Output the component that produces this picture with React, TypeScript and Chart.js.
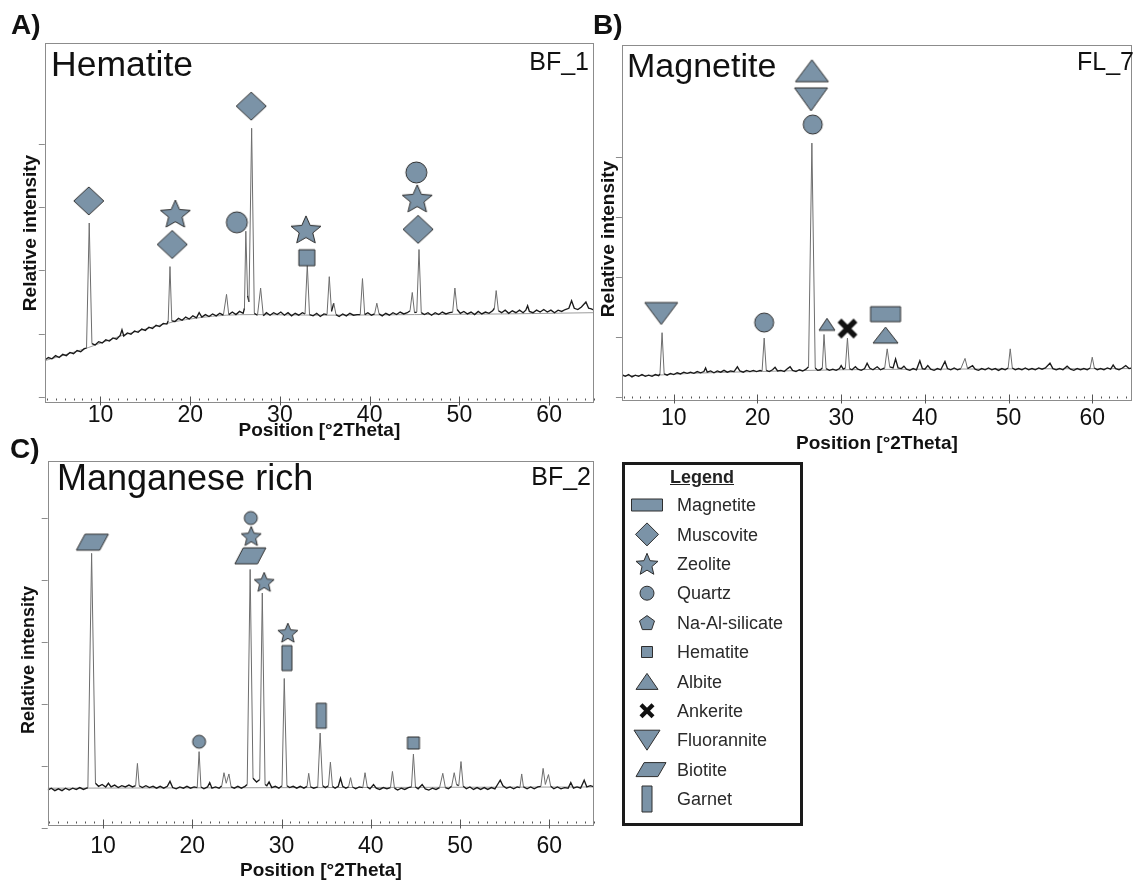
import { useEffect, useRef } from "react";
import { Chart, registerables } from "chart.js";

Chart.register(...registerables);

const FONT = '"Liberation Sans", Arial, Helvetica, sans-serif';
const FILL = "#7b93a7";
const EDGE = "#2e2e2e";

// ---------- data ----------
const xTickLabels = [10, 20, 30, 40, 50, 60];

// Panel A – Hematite (BF_1)
const hemTrace: [number, number][] = [
  [3.8,0.58],[4.2,0.62],[4.6,0.60],[5.0,0.65],[5.4,0.62],[5.8,0.67],[6.2,0.65],[6.6,0.70],[7.0,0.68],[7.4,0.73],[7.8,0.71],[8.2,0.76],[8.45,0.77],[8.75,2.75],[9.05,0.84],[9.4,0.82],[9.8,0.87],[10.2,0.85],[10.6,0.90],[11.0,0.88],[11.4,0.93],[11.8,0.91],[12.2,0.97],[12.4,1.06],[12.6,0.96],[13.0,1.01],[13.4,0.99],[13.8,1.04],[14.2,1.02],[14.6,1.07],[15.0,1.05],[15.4,1.10],[15.8,1.08],[16.2,1.13],[16.6,1.11],[17.0,1.16],[17.4,1.15],[17.55,1.20],[17.75,2.06],[17.95,1.20],[18.3,1.19],[18.7,1.24],[19.1,1.21],[19.5,1.26],[19.9,1.23],[20.3,1.28],[20.7,1.25],[21.0,1.33],[21.3,1.26],[21.7,1.30],[22.1,1.27],[22.5,1.31],[22.9,1.28],[23.3,1.32],[23.7,1.29],[24.05,1.62],[24.3,1.30],[24.7,1.34],[25.1,1.30],[25.5,1.35],[25.9,1.32],[26.05,1.40],[26.2,2.62],[26.4,1.60],[26.55,1.50],[26.85,4.25],[27.15,1.32],[27.5,1.29],[27.85,1.72],[28.15,1.28],[28.5,1.33],
  [28.9,1.29],[29.3,1.33],[29.7,1.30],[30.1,1.34],[30.5,1.29],[30.9,1.33],[31.3,1.28],[31.7,1.32],[32.1,1.29],[32.5,1.33],[32.8,1.31],[33.05,2.09],[33.3,1.30],[33.7,1.28],[34.1,1.32],[34.5,1.27],[34.9,1.31],[35.25,1.30],[35.5,1.90],[35.75,1.35],[36.0,1.48],[36.25,1.30],[36.6,1.27],[37.0,1.31],[37.4,1.28],[37.8,1.32],[38.2,1.29],[38.6,1.30],[38.95,1.30],[39.2,1.87],[39.45,1.30],[39.8,1.33],[40.2,1.29],[40.55,1.31],[40.8,1.48],[41.05,1.31],[41.4,1.28],[41.8,1.32],[42.2,1.29],[42.6,1.33],[43.0,1.30],[43.4,1.34],[43.8,1.31],[44.2,1.33],[44.5,1.36],[44.75,1.65],[45.0,1.33],[45.25,1.34],[45.5,2.33],[45.75,1.33],[46.1,1.30],[46.5,1.33],[46.9,1.29],[47.3,1.33],[47.7,1.30],[48.1,1.34],[48.5,1.31],[48.9,1.33],[49.25,1.34],[49.5,1.72],[49.75,1.38],[50.1,1.32],[50.5,1.35],[50.9,1.31],[51.3,1.34],[51.7,1.30],[52.1,1.35],[52.5,1.31],[52.9,1.34],[53.3,1.32],[53.7,1.36],[53.9,1.40],[54.1,1.68],[54.35,1.36],[54.7,1.33],[55.1,1.37],[55.5,1.32],[55.9,1.36],[56.3,1.33],[56.7,1.37],[57.1,1.33],[57.4,1.37],[57.6,1.44],[57.8,1.35],[58.2,1.33],[58.6,1.37],[59.0,1.34],[59.4,1.38],[59.8,1.34],[60.2,1.37],[60.6,1.33],[61.0,1.37],[61.4,1.35],[61.8,1.38],[62.2,1.40],[62.5,1.52],[62.8,1.40],[63.2,1.38],[63.6,1.42],[64.1,1.50],[64.4,1.40],[64.7,1.39],[65.0,1.37],
];
const hemBackground: [number, number][] = [
  [3.8,0.57],[6,0.66],[8.7,0.78],[12,0.95],[15,1.07],[18,1.18],[21,1.25],[24,1.29],[27,1.30],[35,1.29],[45,1.30],[55,1.31],[65,1.33],
];
const hemMarkers: [string, number, number][] = [
  ["diamond", 8.7, 3.10], ["star", 18.35, 2.90], ["diamond", 18.0, 2.41], ["circle", 25.2, 2.76],
  ["diamond", 26.8, 4.60], ["star", 32.9, 2.65], ["square", 33.0, 2.20], ["circle", 45.2, 3.55],
  ["star", 45.3, 3.14], ["diamond", 45.4, 2.65],
];
const hemYTicks = [0, 1, 2, 3, 4];

// Panel B – Magnetite (FL_7)
const magTrace: [number, number][] = [
  [3.8,0.37],[4.2,0.34],[4.6,0.37],[5.0,0.33],[5.4,0.36],[5.8,0.34],[6.2,0.37],[6.6,0.34],[7.0,0.36],[7.4,0.34],[7.8,0.37],[8.2,0.35],[8.35,0.38],[8.6,1.07],[8.85,0.38],[9.2,0.36],[9.6,0.39],[10.0,0.37],[10.4,0.40],[10.8,0.38],[11.2,0.41],[11.6,0.39],[12.0,0.41],[12.4,0.39],[12.8,0.42],[13.2,0.40],[13.6,0.42],[13.8,0.48],[14.0,0.41],[14.4,0.43],[14.8,0.40],[15.2,0.43],[15.6,0.41],[16.0,0.44],[16.4,0.41],[16.8,0.43],[17.2,0.42],[17.6,0.50],[17.9,0.43],[18.3,0.41],[18.7,0.44],[19.1,0.42],[19.5,0.44],[19.9,0.42],[20.3,0.44],[20.55,0.43],[20.8,0.98],[21.05,0.44],[21.4,0.42],[21.8,0.45],[22.1,0.49],[22.4,0.43],[22.8,0.44],[23.2,0.42],[23.6,0.47],[23.9,0.50],[24.2,0.44],[24.6,0.42],[25.0,0.45],[25.4,0.43],[25.8,0.46],[26.1,0.50],[26.5,4.24],[26.9,0.48],[27.2,0.44],[27.5,0.45],[27.75,0.48],[27.95,1.04],[28.2,0.47],[28.6,0.44],[29.0,0.46],[29.4,0.44],[29.8,0.47],[30.0,0.52],[30.25,0.46],[30.5,0.48],[30.75,0.98],[31.0,0.47],[31.3,0.45],[31.7,0.50],[32.0,0.46],[32.4,0.44],[32.8,0.47],[33.1,0.56],[33.4,0.48],[33.8,0.45],[34.3,0.50],[34.7,0.45],[35.2,0.48],[35.5,0.80],[35.8,0.50],[36.2,0.48],[36.5,0.63],[36.8,0.48],[37.2,0.47],[37.5,0.51],[37.8,0.46],[38.2,0.44],[38.6,0.47],[39.0,0.45],[39.4,0.60],[39.7,0.47],[40.0,0.46],[40.35,0.52],[40.7,0.46],[41.1,0.44],[41.5,0.47],[41.9,0.45],[42.4,0.59],[42.7,0.47],[43.1,0.45],[43.5,0.48],[43.9,0.45],[44.3,0.47],[44.8,0.64],[45.1,0.47],[45.7,0.52],[46.0,0.46],[46.4,0.44],[46.8,0.47],[47.2,0.45],[47.6,0.48],[48.0,0.45],[48.4,0.47],[48.8,0.44],[49.2,0.47],[49.6,0.45],[49.95,0.48],[50.2,0.80],[50.45,0.48],[50.8,0.45],[51.2,0.47],[51.6,0.45],[52.0,0.48],[52.4,0.45],[52.8,0.47],[53.2,0.45],[53.6,0.48],[54.0,0.46],[54.4,0.48],[54.95,0.56],[55.3,0.47],[55.7,0.45],[56.1,0.47],[56.5,0.45],[57.0,0.51],[57.4,0.46],[57.8,0.44],[58.2,0.47],[58.6,0.45],[59.0,0.47],[59.4,0.45],[59.75,0.48],[60.0,0.66],[60.25,0.48],[60.6,0.45],[61.0,0.47],[61.4,0.45],[61.8,0.48],[62.2,0.46],[62.5,0.53],[62.8,0.47],[63.2,0.45],[63.6,0.48],[64.0,0.52],[64.4,0.47],[64.75,0.48],
];
const magBackground: [number, number][] = [
  [3.8,0.35],[8,0.36],[12,0.39],[20,0.42],[30,0.45],[40,0.46],[64.75,0.47],
];
const magMarkers: [string, number, number][] = [
  ["triDown", 8.5, 1.39], ["circle", 20.8, 1.24], ["triUp", 26.5, 5.45], ["triDown", 26.4, 4.97],
  ["circle", 26.6, 4.55], ["triUp", 28.3, 1.21], ["cross", 30.75, 1.14], ["rect", 35.3, 1.38],
  ["triUp", 35.3, 1.03],
];
const magYTicks = [0, 1, 2, 3, 4];

// Panel C – Manganese rich (BF_2)
const mnTrace: [number, number][] = [
  [3.8,0.61],[4.2,0.64],[4.6,0.60],[5.0,0.63],[5.4,0.60],[5.8,0.64],[6.2,0.61],[6.6,0.64],[7.0,0.62],[7.4,0.65],[7.8,0.62],[8.3,0.65],[8.72,4.43],[9.15,0.72],[9.5,0.67],[9.9,0.70],[10.3,0.66],[10.6,0.72],[10.9,0.66],[11.3,0.69],[11.7,0.65],[12.1,0.68],[12.5,0.66],[12.9,0.69],[13.3,0.66],[13.65,0.68],[13.85,1.04],[14.05,0.68],[14.4,0.65],[14.8,0.68],[15.2,0.65],[15.6,0.67],[16.0,0.64],[16.4,0.67],[16.8,0.64],[17.2,0.67],[17.5,0.75],[17.8,0.65],[18.2,0.63],[18.6,0.66],[19.0,0.64],[19.4,0.67],[19.8,0.64],[20.2,0.66],[20.55,0.65],[20.76,1.23],[20.97,0.66],[21.3,0.63],[21.7,0.66],[21.95,0.73],[22.2,0.64],[22.6,0.66],[23.0,0.64],[23.3,0.68],[23.55,0.89],[23.8,0.72],[24.1,0.87],[24.35,0.66],[24.7,0.64],[25.1,0.67],[25.5,0.64],[25.9,0.67],[26.15,0.70],[26.48,4.17],[26.8,0.80],[27.2,0.74],[27.55,0.78],[27.84,3.79],[28.15,0.70],[28.35,0.68],[28.6,0.74],[28.9,0.65],[29.3,0.67],[29.7,0.64],[30.05,0.68],[30.3,2.41],[30.6,0.68],[30.9,0.65],[31.3,0.67],[31.7,0.64],[32.1,0.67],[32.5,0.64],[32.85,0.67],[33.04,0.88],[33.25,0.66],[33.6,0.64],[34.05,0.66],[34.32,1.53],[34.6,0.68],[34.9,0.65],[35.25,0.68],[35.47,1.06],[35.7,0.67],[36.0,0.64],[36.35,0.67],[36.6,0.80],[36.85,0.67],[37.2,0.64],[37.5,0.66],[37.73,0.81],[37.95,0.66],[38.3,0.63],[38.7,0.66],[39.1,0.65],[39.35,0.89],[39.6,0.66],[39.9,0.63],[40.3,0.70],[40.6,0.64],[41.0,0.62],[41.4,0.65],[41.8,0.63],[42.2,0.65],[42.42,0.91],[42.65,0.64],[43.0,0.61],[43.4,0.64],[43.8,0.62],[44.2,0.65],[44.55,0.66],[44.77,1.19],[45.0,0.66],[45.3,0.63],[45.75,0.70],[46.1,0.63],[46.5,0.61],[46.9,0.64],[47.3,0.62],[47.7,0.65],[48.06,0.88],[48.35,0.65],[48.7,0.63],[49.05,0.67],[49.34,0.89],[49.6,0.70],[49.85,0.68],[50.1,1.07],[50.35,0.67],[50.7,0.63],[51.1,0.66],[51.5,0.62],[51.9,0.65],[52.3,0.62],[52.7,0.65],[53.1,0.62],[53.5,0.65],[53.9,0.63],[54.2,0.70],[54.5,0.77],[54.8,0.68],[55.2,0.64],[55.6,0.66],[56.0,0.63],[56.4,0.66],[56.7,0.65],[56.9,0.87],[57.1,0.66],[57.5,0.63],[57.9,0.66],[58.3,0.63],[58.7,0.66],[59.05,0.67],[59.3,0.96],[59.55,0.70],[59.9,0.86],[60.15,0.67],[60.5,0.63],[60.9,0.66],[61.3,0.63],[61.7,0.65],[62.1,0.64],[62.4,0.73],[62.7,0.64],[63.1,0.66],[63.5,0.64],[63.9,0.77],[64.2,0.66],[64.6,0.68],[65.0,0.66],
];
const mnBackground: [number, number][] = [[3.8,0.64],[65,0.66]];
const mnMarkers: [string, number, number][] = [
  ["para", 8.8, 4.61], ["circle", 20.76, 1.39], ["circle", 26.55, 5.0], ["star", 26.6, 4.71],
  ["para", 26.5, 4.39], ["star", 28.05, 3.97], ["star", 30.7, 3.15], ["garnet", 30.6, 2.74],
  ["garnet", 34.45, 1.81], ["square", 44.77, 1.37],
];
const mnYTicks = [0, 1, 2, 3, 4, 5];

// Legend
const legendNames = ["Magnetite","Muscovite","Zeolite","Quartz","Na-Al-silicate","Hematite","Albite","Ankerite","Fluorannite","Biotite","Garnet"];
const legendKinds = ["rect","diamond","star","circle","pentagon","square","triUp","cross","triDown","para","garnet"];

// ---------- styles (sizes of symbols, px) ----------
const hemMarkerSizes = [[30,28],[30,27],[30,28],[21,21],[30,28],[30,27],[16,16],[21,21],[30,27],[30,28]];
const magMarkerSizes = [[33,22],[19,19],[33,22],[33,23],[19,19],[16,12],[20,20],[30,15],[25,16]];
const mnMarkerSizes = [[32,16],[13,13],[13,13],[20,19],[31,16],[20,19],[20,19],[10,25],[10,25],[12,12]];
const legendSizes = [[31,12],[23,23],[22,21],[14,14],[15,14],[11,11],[22,16],[16,16],[26,20],[30,14],[10,26]];

// ---------- symbol geometry ----------
function polyPoints(kind: string, w: number, h: number): [number, number][] {
  const hw = w / 2, hh = h / 2;
  if (kind === "rect" || kind === "square" || kind === "garnet") return [[-hw,-hh],[hw,-hh],[hw,hh],[-hw,hh]];
  if (kind === "diamond") return [[0,-hh],[hw,0],[0,hh],[-hw,0]];
  if (kind === "triUp") return [[0,-hh],[hw,hh],[-hw,hh]];
  if (kind === "triDown") return [[-hw,-hh],[hw,-hh],[0,hh]];
  if (kind === "para") { const s = w * 0.27; return [[-hw + s,-hh],[hw,-hh],[hw - s,hh],[-hw,hh]]; }
  if (kind === "star" || kind === "pentagon") {
    const R = w / 1.902;
    const k = h / (1.809 * R);
    const shift = 0.0955 * R;
    const pts: [number, number][] = [];
    const n = kind === "star" ? 10 : 5;
    for (let i = 0; i < n; i++) {
      const a = -Math.PI / 2 + (i * 2 * Math.PI) / n;
      const r = kind === "star" && i % 2 === 1 ? R * 0.45 : R;
      pts.push([Math.cos(a) * r, (Math.sin(a) * r + shift) * k]);
    }
    return pts;
  }
  return [];
}

function drawSymbol(ctx: CanvasRenderingContext2D, kind: string, w: number, h: number) {
  if (kind === "cross") {
    ctx.strokeStyle = "#111";
    ctx.lineWidth = w * 0.27;
    ctx.beginPath();
    ctx.moveTo(-w / 2 + 2, -h / 2 + 2); ctx.lineTo(w / 2 - 2, h / 2 - 2);
    ctx.moveTo(w / 2 - 2, -h / 2 + 2); ctx.lineTo(-w / 2 + 2, h / 2 - 2);
    ctx.stroke();
    return;
  }
  ctx.beginPath();
  if (kind === "circle") {
    ctx.ellipse(0, 0, w / 2, h / 2, 0, 0, Math.PI * 2);
  } else {
    const pts = polyPoints(kind, w, h);
    pts.forEach(([x, y], i) => (i ? ctx.lineTo(x, y) : ctx.moveTo(x, y)));
    ctx.closePath();
  }
  ctx.fillStyle = FILL;
  ctx.fill();
  ctx.strokeStyle = EDGE;
  ctx.lineWidth = 1;
  ctx.stroke();
}

function symbolCanvas(kind: string, w: number, h: number): HTMLCanvasElement {
  const c = document.createElement("canvas");
  c.width = Math.ceil(w + 4);
  c.height = Math.ceil(h + 4);
  const ctx = c.getContext("2d")!;
  ctx.translate(c.width / 2, c.height / 2);
  drawSymbol(ctx, kind, w, h);
  return c;
}

function SvgSymbol({ kind, cx, cy, w, h }: { kind: string; cx: number; cy: number; w: number; h: number }) {
  if (kind === "cross") {
    const a = w / 2 - 2, b = h / 2 - 2;
    return (
      <g stroke="#111" strokeWidth={w * 0.27}>
        <line x1={cx - a} y1={cy - b} x2={cx + a} y2={cy + b} />
        <line x1={cx + a} y1={cy - b} x2={cx - a} y2={cy + b} />
      </g>
    );
  }
  if (kind === "circle") return <ellipse cx={cx} cy={cy} rx={w / 2} ry={h / 2} fill={FILL} stroke={EDGE} strokeWidth={1} />;
  const pts = polyPoints(kind, w, h).map(([x, y]) => `${cx + x},${cy + y}`).join(" ");
  return <polygon points={pts} fill={FILL} stroke={EDGE} strokeWidth={1} />;
}

// ---------- chart plugin: frame, y ticks, x minor ticks ----------
const framePlugin = {
  id: "frame",
  afterDraw(chart: any, _args: any, opts: any) {
    const { ctx, chartArea, scales } = chart;
    const { left, right, top, bottom } = chartArea;
    ctx.save();
    ctx.strokeStyle = "#8c8c8c";
    ctx.lineWidth = 1;
    ctx.strokeRect(Math.round(left) + 0.5, Math.round(top) + 0.5, Math.round(right - left) - 1, Math.round(bottom - top) - 1);
    ctx.beginPath();
    for (const v of opts.yTicks as number[]) {
      const py = Math.round(scales.y.getPixelForValue(v)) + 0.5;
      ctx.moveTo(left - 6, py);
      ctx.lineTo(left, py);
    }
    ctx.stroke();
    ctx.strokeStyle = "#555";
    ctx.beginPath();
    const b = Math.round(bottom) - 0.5;
    for (let d = Math.ceil(scales.x.min); d <= scales.x.max; d++) {
      const px = Math.round(scales.x.getPixelForValue(d)) + 0.5;
      if (d % 10 === 0) {
        ctx.moveTo(px, b - 6);
        ctx.lineTo(px, b + 3);
      } else {
        ctx.moveTo(px, b - 4);
        ctx.lineTo(px, b - 2);
      }
    }
    ctx.stroke();
    ctx.restore();
  },
};

type PanelSpec = {
  left: number; top: number; w: number; h: number;
  pad: { left: number; right: number; top: number };
  axisH: number; tickPad: number; titlePad: number;
  xMin: number; xMax: number; yMin: number; yMax: number;
  trace: [number, number][]; background: [number, number][];
  markers: [string, number, number][]; sizes: number[][]; yTicks: number[];
};

const steep = (c: any) => Math.abs(c.p1.y - c.p0.y) > 9;

function Panel({ spec }: { spec: PanelSpec }) {
  const ref = useRef<HTMLCanvasElement>(null);
  useEffect(() => {
    const chart = new Chart(ref.current!, {
      type: "scatter",
      data: {
        datasets: [
          {
            data: spec.markers.map((m) => ({ x: m[1], y: m[2] })),
            pointStyle: spec.markers.map((m, i) => symbolCanvas(m[0], spec.sizes[i][0], spec.sizes[i][1])) as any,
            pointRadius: 5,
            order: 0,
          },
          {
            data: spec.trace.map(([x, y]) => ({ x, y })),
            showLine: true,
            borderColor: "#1e1e1e",
            borderWidth: 1,
            pointRadius: 0,
            order: 1,
            segment: {
              borderColor: (c: any) => (steep(c) ? "#6e6e6e" : "#1a1a1a"),
              borderWidth: (c: any) => (steep(c) ? 1 : 1.35),
            },
          },
          {
            data: spec.background.map(([x, y]) => ({ x, y })),
            showLine: true,
            borderColor: "#9c9c9c",
            borderWidth: 1,
            pointRadius: 0,
            cubicInterpolationMode: "monotone",
            order: 2,
          },
        ],
      } as any,
      options: {
        animation: false,
        responsive: false,
        devicePixelRatio: 1,
        events: [],
        layout: { padding: { left: spec.pad.left, right: spec.pad.right, top: spec.pad.top, bottom: 0 } },
        plugins: {
          legend: { display: false },
          tooltip: { enabled: false },
          frame: { yTicks: spec.yTicks },
        } as any,
        scales: {
          x: {
            type: "linear",
            min: spec.xMin,
            max: spec.xMax,
            grid: { display: false, drawTicks: false, tickLength: 0 },
            border: { display: false },
            ticks: {
              font: { size: 23, family: FONT, lineHeight: 1 },
              color: "#111",
              padding: spec.tickPad,
              maxRotation: 0,
              autoSkip: false,
            },
            afterBuildTicks: (s: any) => {
              s.ticks = xTickLabels.map((v) => ({ value: v }));
            },
            afterFit: (s: any) => {
              s.height = spec.axisH;
            },
            title: {
              display: true,
              text: "Position [°2Theta]",
              font: { size: 19, weight: "bold", family: FONT, lineHeight: 1.2 },
              color: "#111",
              padding: { top: 0, bottom: spec.titlePad },
            },
          },
          y: { type: "linear", display: false, min: spec.yMin, max: spec.yMax },
        },
      } as any,
      plugins: [framePlugin],
    });
    return () => chart.destroy();
  }, []);
  return (
    <canvas
      ref={ref}
      width={spec.w}
      height={spec.h}
      style={{ position: "absolute", left: spec.left, top: spec.top, width: spec.w, height: spec.h }}
    />
  );
}

const specA: PanelSpec = {
  left: 0, top: 0, w: 600, h: 445,
  pad: { left: 44.8, right: 5.8, top: 43 }, axisH: 42, tickPad: 1.3, titlePad: 2.6,
  xMin: 3.8, xMax: 65, yMin: -0.1, yMax: 5.6,
  trace: hemTrace, background: hemBackground, markers: hemMarkers, sizes: hemMarkerSizes, yTicks: hemYTicks,
};
const specB: PanelSpec = {
  left: 600, top: 0, w: 538, h: 455,
  pad: { left: 21.9, right: 1, top: 45 }, axisH: 54, tickPad: 5.8, titlePad: 0.1,
  xMin: 3.8, xMax: 64.75, yMin: -0.072, yMax: 5.88,
  trace: magTrace, background: magBackground, markers: magMarkers, sizes: magMarkerSizes, yTicks: magYTicks,
};
const specC: PanelSpec = {
  left: 0, top: 450, w: 600, h: 435,
  pad: { left: 47.7, right: 3.5, top: 11 }, axisH: 59, tickPad: 9.1, titlePad: 2.6,
  xMin: 3.8, xMax: 65, yMin: 0.03, yMax: 5.92,
  trace: mnTrace, background: mnBackground, markers: mnMarkers, sizes: mnMarkerSizes, yTicks: mnYTicks,
};

function Txt(props: { x: number; base: number; size: number; bold?: boolean; right?: boolean; color?: string; underline?: boolean; children: any }) {
  const { x, base, size, bold, right, color, underline, children } = props;
  const style: any = {
    position: "absolute",
    top: base - 0.8465 * size,
    fontSize: size,
    lineHeight: `${size}px`,
    fontWeight: bold ? 700 : 400,
    whiteSpace: "nowrap",
    color: color || "#111",
    textDecoration: underline ? "underline" : "none",
  };
  if (right) style.right = 1138 - x;
  else style.left = x;
  return <div style={style}>{children}</div>;
}

function VTxt({ cx, cy, size, children }: { cx: number; cy: number; size: number; children: any }) {
  return (
    <div
      style={{
        position: "absolute",
        left: cx,
        top: cy,
        transform: "translate(-50%, -50%) rotate(-90deg)",
        fontSize: size,
        lineHeight: `${size}px`,
        fontWeight: 700,
        whiteSpace: "nowrap",
        color: "#111",
      }}
    >
      {children}
    </div>
  );
}

export default function App() {
  Chart.defaults.font.family = FONT;
  const legendLeft = 622, legendTop = 462, legendW = 181, legendH = 364;
  return (
    <div style={{ position: "fixed", left: 0, top: 0, width: 1138, height: 885, overflow: "hidden", background: "#fff", fontFamily: FONT }}>
      <Panel spec={specA} />
      <Panel spec={specB} />
      <Panel spec={specC} />

      <Txt x={11} base={35} size={28} bold>A)</Txt>
      <Txt x={593} base={35} size={28} bold>B)</Txt>
      <Txt x={10} base={459} size={28} bold>C)</Txt>

      <Txt x={51} base={77} size={35.5}>Hematite</Txt>
      <Txt x={589} base={70} size={25} right>BF_1</Txt>
      <Txt x={627} base={77} size={34}>Magnetite</Txt>
      <Txt x={1134} base={70} size={25} right>FL_7</Txt>
      <Txt x={57} base={490} size={36}>Manganese rich</Txt>
      <Txt x={591} base={485} size={25} right>BF_2</Txt>

      <VTxt cx={29} cy={233} size={19}>Relative intensity</VTxt>
      <VTxt cx={607} cy={239} size={19}>Relative intensity</VTxt>
      <VTxt cx={28} cy={660} size={18}>Relative intensity</VTxt>

      <div
        style={{
          position: "absolute",
          left: legendLeft,
          top: legendTop,
          width: legendW,
          height: legendH,
          border: "3px solid #1a1a1a",
          boxSizing: "border-box",
        }}
      />
      <Txt x={670} base={483.5} size={18} bold underline color="#222">Legend</Txt>
      <svg style={{ position: "absolute", left: 0, top: 0 }} width={1138} height={885}>
        {legendKinds.map((k, i) => (
          <SvgSymbol key={k} kind={k} cx={k === "para" ? 651 : 647} cy={505 + i * 29.4} w={legendSizes[i][0]} h={legendSizes[i][1]} />
        ))}
      </svg>
      {legendNames.map((n, i) => (
        <Txt key={n} x={677} base={505 + i * 29.4 + 6.5} size={18} color="#2a2a2a">{n}</Txt>
      ))}
    </div>
  );
}
